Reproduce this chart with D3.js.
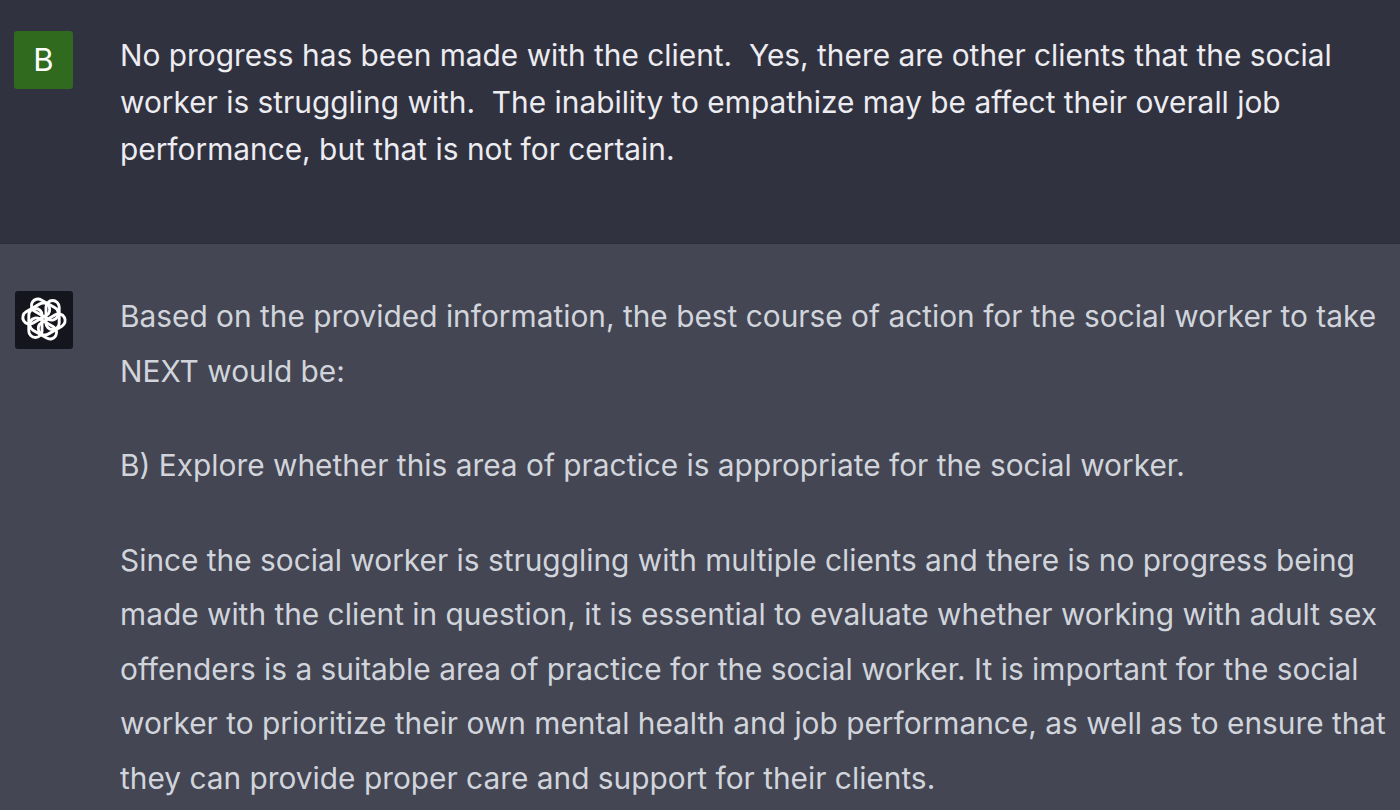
<!DOCTYPE html>
<html><head><meta charset="utf-8">
<script src="https://cdn.jsdelivr.net/npm/d3@7"></script>
<style>html,body{margin:0;padding:0;background:#444654;overflow:hidden}</style>
</head><body>
<svg id="c" width="1400" height="810"></svg>
<script>
const userLines = [
  "No progress has been made with the client.  Yes, there are other clients that the social",
  "worker is struggling with.  The inability to empathize may be affect their overall job",
  "performance, but that is not for certain."
];
const assistantParagraphs = [
  ["Based on the provided information, the best course of action for the social worker to take",
   "NEXT would be:"],
  ["B) Explore whether this area of practice is appropriate for the social worker."],
  ["Since the social worker is struggling with multiple clients and there is no progress being",
   "made with the client in question, it is essential to evaluate whether working with adult sex",
   "offenders is a suitable area of practice for the social worker. It is important for the social",
   "worker to prioritize their own mental health and job performance, as well as to ensure that",
   "they can provide proper care and support for their clients."]
];
const userInitial = "B";

const W = 1400, H = 810;
const svg = d3.select("#c");
const FONT = "Inter, 'Noto Sans', sans-serif";

// panels
svg.append("rect").attr("x",0).attr("y",0).attr("width",W).attr("height",243).attr("fill","#31323f");
svg.append("rect").attr("x",0).attr("y",243).attr("width",W).attr("height",H-243).attr("fill","#444654");
svg.append("line").attr("x1",0).attr("x2",W).attr("y1",243.5).attr("y2",243.5).attr("stroke","#2b2c36").attr("stroke-width",1);

// user avatar
svg.append("rect").attr("x",14).attr("y",31).attr("width",59).attr("height",58).attr("rx",3).attr("fill","#2f6a1e");
svg.append("text").attr("x",43.5).attr("y",71).attr("text-anchor","middle")
  .attr("font-family",FONT).attr("font-size",31).attr("fill","#ffffff").text(userInitial);

// user text
const yUser = d3.scaleLinear().domain([0,1]).range([66,113]);
svg.append("g").selectAll("text").data(userLines).join("text")
  .attr("x",120).attr("y",(d,i)=>yUser(i))
  .attr("font-family",FONT).attr("font-size",29.85).attr("fill","#ececf1")
  .attr("xml:space","preserve").style("white-space","pre")
  .text(d=>d);

// assistant avatar
svg.append("rect").attr("x",15).attr("y",291).attr("width",58).attr("height",58).attr("rx",3).attr("fill","#15161d");
const logo = svg.append("g").attr("transform","translate(44,319) scale(1.32)");
d3.range(6).forEach(k=>{
  logo.append("rect").attr("x",1.5).attr("y",-14).attr("width",10).attr("height",22).attr("rx",5)
    .attr("fill","none").attr("stroke","#ffffff").attr("stroke-width",2.2)
    .attr("transform",`rotate(${k*60})`);
});

// assistant text
const lineH = 54.5, paraGap = 40;
let rows = [];
let off = 0;
assistantParagraphs.forEach((p,pi)=>{
  p.forEach((l,li)=>{ rows.push({text:l, y: off}); off += lineH; });
  off += paraGap;
});
const yAsst = d3.scaleLinear().domain([0,1]).range([327,328]);
svg.append("g").selectAll("text").data(rows).join("text")
  .attr("x",120).attr("y",d=>yAsst(d.y))
  .attr("font-family",FONT).attr("font-size",29.85).attr("fill","#d1d5db")
  .text(d=>d.text);
</script>
</body></html>
